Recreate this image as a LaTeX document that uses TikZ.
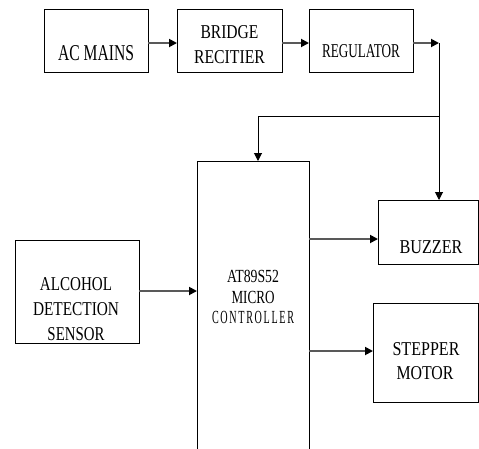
\documentclass[tikz,border=0pt]{standalone}
\usepackage{fontspec}
\setmainfont{Liberation Serif}
\usepackage{graphicx}
\usetikzlibrary{arrows.meta}
\newcommand{\fw}[2]{\resizebox{#1pt}{\height}{#2}}
\tikzset{
  box/.style={draw=black, line width=1pt, inner sep=0pt, outer sep=0pt, rectangle},
  txt/.style={inner sep=0pt, outer sep=0pt, anchor=base, font=\fontsize{19.6}{24}\selectfont},
  mtxt/.style={txt, font=\fontsize{18.5}{20}\selectfont},
  harrow/.style={draw=black!65, line width=1.8pt, -{Triangle[length=8pt,width=8pt,fill=black,color=black]}},
  vline/.style={draw=black, line width=1pt},
  varrow/.style={vline, -{Triangle[length=8pt,width=8pt]}},
}
\begin{document}
\begin{tikzpicture}[x=1pt,y=-1pt]
\useasboundingbox (0,0) rectangle (479,448);
% boxes
\node[box, minimum width=104pt, minimum height=63pt] (ac) at (96,40.5) {};
\node[box, minimum width=105pt, minimum height=63pt] (br) at (229.5,40.5) {};
\node[box, minimum width=104pt, minimum height=63pt] (rg) at (361,40.5) {};
\node[box, minimum width=112pt, minimum height=300pt] (mc) at (253,311) {};
\node[box, minimum width=100pt, minimum height=64pt] (bz) at (428,232) {};
\node[box, minimum width=105pt, minimum height=99pt] (sm) at (425.5,352.5) {};
\node[box, minimum width=124pt, minimum height=103pt] (al) at (77,291.5) {};
% texts
\node[txt, font=\fontsize{22.6}{26}\selectfont] (tac) at (96,60) {\fw{76}{AC MAINS}};
\node[txt] (tbr1) at (229.5,38) {\fw{58}{BRIDGE}};
\node[txt] (tbr2) at (229.5,63) {\fw{71}{RECITIER}};
\node[txt] (trg) at (361,57) {\fw{78}{REGULATOR}};
\node[txt] (tbz) at (431,253) {\fw{63}{BUZZER}};
\node[txt] (tsm1) at (426,355) {\fw{67}{STEPPER}};
\node[txt] (tsm2) at (425,379) {\fw{57}{MOTOR}};
\node[txt] (tal1) at (76,290) {\fw{72}{ALCOHOL}};
\node[txt] (tal2) at (76,315) {\fw{86}{DETECTION}};
\node[txt] (tal3) at (76,340) {\fw{57}{SENSOR}};
\node[mtxt] (tmc1) at (253,282) {\fw{52}{AT89S52}};
\node[mtxt] (tmc2) at (253,303) {\fw{43}{MICRO}};
\node[mtxt] (tmc3) at (253,323) {\fw{82}{C\,O\,N\,T\,R\,O\,L\,L\,E\,R}};
% helper coordinates
\coordinate (ya) at (0,43);
\coordinate (vx) at (439,43);
\coordinate (vb) at (439,116);
\coordinate (mx) at (258,116);
\coordinate (yb) at (0,239);
\coordinate (ys) at (0,351);
\coordinate (yl) at (0,291);
% connectors
\draw[harrow] (ac.east |- ya) -- (br.west |- ya);
\draw[harrow] (br.east |- ya) -- (rg.west |- ya);
\draw[harrow] (rg.east |- ya) -- (vx);
\draw[varrow] (vx) -- (bz.north -| vx);
\draw[vline] (vb) -- (mx);
\draw[varrow] (mx) -- (mc.north -| mx);
\draw[harrow] (mc.east |- yb) -- (bz.west |- yb);
\draw[harrow] (mc.east |- ys) -- (sm.west |- ys);
\draw[harrow] (al.east |- yl) -- (mc.west |- yl);
\end{tikzpicture}
\end{document}
